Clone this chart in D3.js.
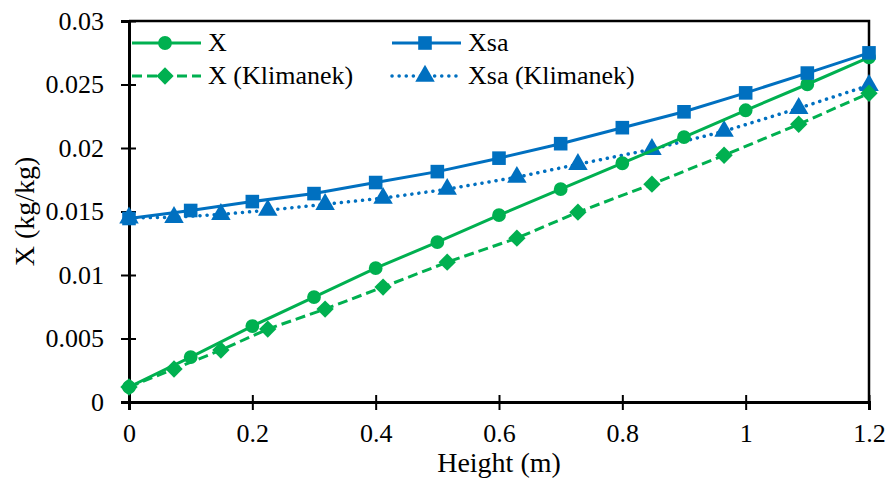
<html>
<head>
    <script src="https://d3js.org/d3.v7.min.js"></script>
    <style>
        body { margin: 0; background: #fff; }
    </style>
</head>
<body>
    <svg id="chart"></svg>

    <script>
        var Width = 889, Height = 482;
        var Left = 129, Right = 869, Top = 21, Bottom = 402;
        var Font = "'Liberation Serif', 'Times New Roman', Tinos, 'DejaVu Serif', serif";

        // model results, every 0.1 m
        var heights = [0, 0.1, 0.2, 0.3, 0.4, 0.5, 0.6, 0.7, 0.8, 0.9, 1.0, 1.1, 1.2];
        var xModel = [0.00118, 0.00354, 0.00598, 0.00826, 0.01054, 0.01259, 0.01471, 0.01676, 0.0188, 0.02085, 0.02297, 0.02502, 0.02714];
        var xsaModel = [0.01445, 0.01508, 0.01578, 0.01641, 0.01728, 0.01814, 0.0192, 0.02034, 0.0216, 0.02285, 0.02434, 0.0259, 0.02749];

        // Klimanek data
        var heightsK = [0, 0.073, 0.149, 0.225, 0.318, 0.412, 0.516, 0.629, 0.728, 0.848, 0.965, 1.086, 1.2];
        var xKlim = [0.00118, 0.0026, 0.00409, 0.00574, 0.00732, 0.00905, 0.01101, 0.0129, 0.01495, 0.01715, 0.01943, 0.02187, 0.02431];
        var xsaKlim = [0.0145, 0.01454, 0.01478, 0.0151, 0.01557, 0.01605, 0.01676, 0.0177, 0.01872, 0.0199, 0.02132, 0.02313, 0.02494];

        var xTicks = [0, 0.2, 0.4, 0.6, 0.8, 1.0, 1.2];
        var yTicks = [0, 0.005, 0.01, 0.015, 0.02, 0.025, 0.03];

        var Green = "#00b050", Blue = "#0070c0";

        var series = [
            { name: "Xsa (Klimanek)", xs: heightsK, ys: xsaKlim, color: Blue, dash: "0.1,7", cap: "round", shape: d3.symbolTriangle, size: 165, rot: 0 },
            { name: "X", xs: heights, ys: xModel, color: Green, dash: null, cap: "butt", shape: d3.symbolCircle, size: 150, rot: 0 },
            { name: "X (Klimanek)", xs: heightsK, ys: xKlim, color: Green, dash: "10,5", cap: "butt", shape: d3.symbolSquare, size: 150, rot: 45 },
            { name: "Xsa", xs: heights, ys: xsaModel, color: Blue, dash: null, cap: "butt", shape: d3.symbolSquare, size: 185, rot: 0 }
        ];

        var svg = d3.select("#chart").attr("width", Width).attr("height", Height)
            .attr("font-family", Font);

        var x = d3.scaleLinear().domain([0, 1.2]).range([Left, Right]);
        var y = d3.scaleLinear().domain([0, 0.03]).range([Bottom, Top]);
        var fmt = d3.format("~g");

        // frame (top and right)
        svg.append("path")
            .attr("d", "M" + Left + "," + Top + "H" + Right + "V" + Bottom)
            .attr("fill", "none").attr("stroke", "#000").attr("stroke-width", 2.5);

        var xAxis = svg.append("g")
            .attr("transform", "translate(0," + Bottom + ")")
            .call(d3.axisBottom(x).tickValues(xTicks).tickFormat(fmt).tickSize(8).tickPadding(14));
        xAxis.selectAll(".tick line").attr("y1", -7);

        var yAxis = svg.append("g")
            .attr("transform", "translate(" + Left + ",0)")
            .call(d3.axisLeft(y).tickValues(yTicks).tickFormat(fmt).tickSize(8).tickPadding(17));
        yAxis.selectAll(".tick line").attr("x1", 7);

        svg.selectAll("g").attr("font-family", null);
        svg.selectAll(".domain").attr("stroke-width", 3);
        svg.selectAll(".tick line").attr("stroke-width", 2);
        svg.selectAll(".tick text").attr("font-size", 26).attr("fill", "#000");

        // series
        var line = d3.line();
        series.forEach(function(s) {
            var pts = s.xs.map(function(d, i) { return [x(d), y(s.ys[i])]; });
            svg.append("path")
                .attr("d", line(pts))
                .attr("fill", "none")
                .attr("stroke", s.color)
                .attr("stroke-width", s.cap == "round" ? 3.5 : 3)
                .attr("stroke-dasharray", s.dash)
                .attr("stroke-linecap", s.cap);
            svg.selectAll(null).data(pts).enter()
                .append("path")
                .attr("d", d3.symbol().type(s.shape).size(s.size))
                .attr("transform", function(p) { return "translate(" + p[0] + "," + p[1] + ") rotate(" + s.rot + ")"; })
                .attr("fill", s.color);
        });

        // axis titles
        svg.append("text")
            .attr("x", (Left + Right) / 2).attr("y", 472)
            .attr("text-anchor", "middle")
            .attr("font-size", 28)
            .text("Height (m)");

        svg.append("text")
            .attr("transform", "translate(34," + ((Top + Bottom) / 2) + ") rotate(-90)")
            .attr("text-anchor", "middle")
            .attr("font-size", 28)
            .text("X (kg/kg)");

        // legend
        var legend = [
            { s: series[1], lx: 132, ly: 43 },
            { s: series[3], lx: 392, ly: 43 },
            { s: series[2], lx: 132, ly: 76 },
            { s: series[0], lx: 392, ly: 76 }
        ];
        legend.forEach(function(l) {
            var g = svg.append("g").attr("transform", "translate(" + l.lx + "," + l.ly + ")");
            g.append("line")
                .attr("x1", 0).attr("x2", 69).attr("y1", 0).attr("y2", 0)
                .attr("stroke", l.s.color).attr("stroke-width", l.s.cap == "round" ? 3.5 : 3)
                .attr("stroke-dasharray", l.s.dash)
                .attr("stroke-linecap", l.s.cap);
            g.append("path")
                .attr("d", d3.symbol().type(l.s.shape).size(l.s.size))
                .attr("transform", "translate(33,0) rotate(" + l.s.rot + ")")
                .attr("fill", l.s.color);
            g.append("text")
                .attr("x", 76).attr("y", 8)
                .attr("font-size", 26)
                .text(l.s.name);
        });
    </script>
</body>
</html>
